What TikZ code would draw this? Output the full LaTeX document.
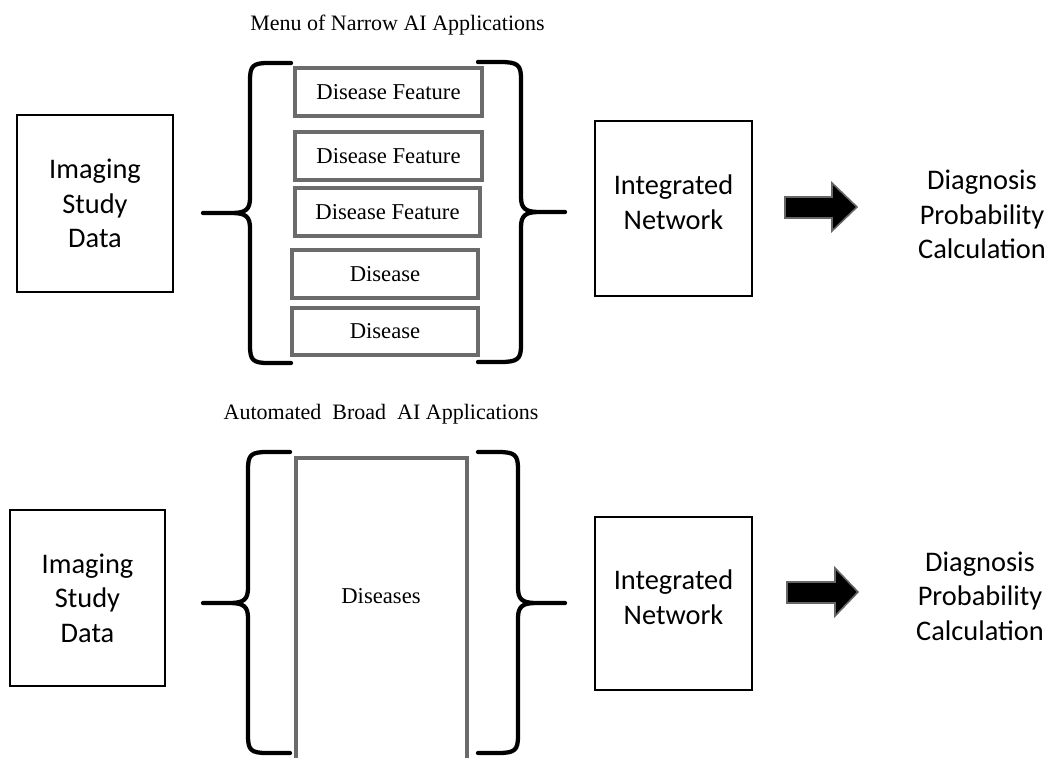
\documentclass[tikz,border=0pt]{standalone}
\usepackage{fontspec}
\setmainfont{Liberation Serif}
\newfontfamily\calib{Carlito}
\begin{document}
\begin{tikzpicture}[x=0.75pt,y=-0.75pt,
  blkbox/.style={draw=black, line width=2pt, inner sep=0pt},
  gbox/.style={draw=black!58, line width=2.6pt, inner sep=0pt, minimum height=36pt,
    font=\fontsize{17}{19}\selectfont},
  sanstext/.style={font=\calib\fontsize{21.3}{26}\selectfont, align=center, inner sep=0pt},
  sertext/.style={font=\fontsize{16.5}{19}\selectfont, inner sep=0pt},
  brace/.style={draw=black, line width=3.2pt, line cap=round, line join=round},
  fatarrow/.style={fill=black, draw=black!60, line width=1.2pt, line join=miter}]
\useasboundingbox (0,0) rectangle (1048,757);

% ---------- top section ----------
\node[sertext] (title1) at (397.5,25) {Menu of Narrow AI Applications};

\node[blkbox, minimum width=117pt, minimum height=132.75pt] (img1) at (95,203.5) {};
\node[sanstext] (img1t) at (img1.center) {Imaging\\Study\\Data};

\draw[brace] (291,63) -- (268,63) .. controls (253,63) and (250,66) .. (250,80)
  -- (250,198) .. controls (250,209) and (246,213) .. (232,213) -- (203,213)
  (232,213) .. controls (246,213) and (250,217) .. (250,228)
  -- (250,346) .. controls (250,360) and (253,363) .. (268,363) -- (291,363);

\node[gbox, minimum width=140.25pt] (d1) at (388.5,92) {Disease Feature};
\node[gbox, minimum width=140.25pt] (d2) at (388.5,156) {Disease Feature};
\node[gbox, minimum width=138.75pt] (d3) at (387.5,212) {Disease Feature};
\node[gbox, minimum width=139.5pt] (d4) at (385,274) {Disease};
\node[gbox, minimum width=139.5pt, minimum height=35.25pt] (d5) at (385,331.5) {Disease};

\draw[brace] (478,62) -- (500,62) .. controls (518,62) and (521,65) .. (521,79)
  -- (521,197) .. controls (521,208) and (525,212) .. (539,212) -- (565,212)
  (539,212) .. controls (525,212) and (521,216) .. (521,227)
  -- (521,345) .. controls (521,359) and (518,362) .. (500,362) -- (478,362);

\node[blkbox, minimum width=117.75pt, minimum height=131.25pt] (int1) at (673.5,208.5) {};
\node[sanstext] (int1t) at (673.5,202.5) {Integrated\\Network};

\draw[fatarrow] (785,197) -- (832,197) -- (832,183) -- (857,207) -- (832,231)
  -- (832,218) -- (785,218) -- cycle;

\node[sanstext] (diag1) at (982,214.5) {Diagnosis\\Probability\\Calculation};

% ---------- bottom section ----------
\node[sertext] (title2) at (381,414.5) {Automated\ \ Broad\ \ AI Applications};

\node[blkbox, minimum width=116.25pt, minimum height=132pt] (img2) at (87.5,598) {};
\node[sanstext] (img2t) at (img2.center) {Imaging\\Study\\Data};

\draw[brace] (290,452) -- (267,452) .. controls (251,452) and (248,455) .. (248,469)
  -- (248,588) .. controls (248,599) and (244,603) .. (230,603) -- (203,603)
  (230,603) .. controls (244,603) and (248,607) .. (248,618)
  -- (248,736) .. controls (248,750) and (251,753) .. (267,753) -- (290,753);

\draw[draw=black!58, line width=2.6pt] (296,760) -- (296,458) -- (467,458) -- (467,760);
\node[sertext, font=\fontsize{17}{19}\selectfont] (dis) at (381,596.5) {Diseases};

\draw[brace] (478,452) -- (498,452) .. controls (515,452) and (518,455) .. (518,469)
  -- (518,588) .. controls (518,599) and (522,603) .. (536,603) -- (565,603)
  (536,603) .. controls (522,603) and (518,607) .. (518,618)
  -- (518,736) .. controls (518,750) and (515,753) .. (498,753) -- (478,753);

\node[blkbox, minimum width=117.75pt, minimum height=129.75pt] (int2) at (673.5,603.5) {};
\node[sanstext] (int2t) at (673.5,597.5) {Integrated\\Network};

\draw[fatarrow] (787,582) -- (835,582) -- (835,568) -- (858,592) -- (835,616)
  -- (835,603) -- (787,603) -- cycle;

\node[sanstext] (diag2) at (980,596) {Diagnosis\\Probability\\Calculation};
\end{tikzpicture}
\end{document}
